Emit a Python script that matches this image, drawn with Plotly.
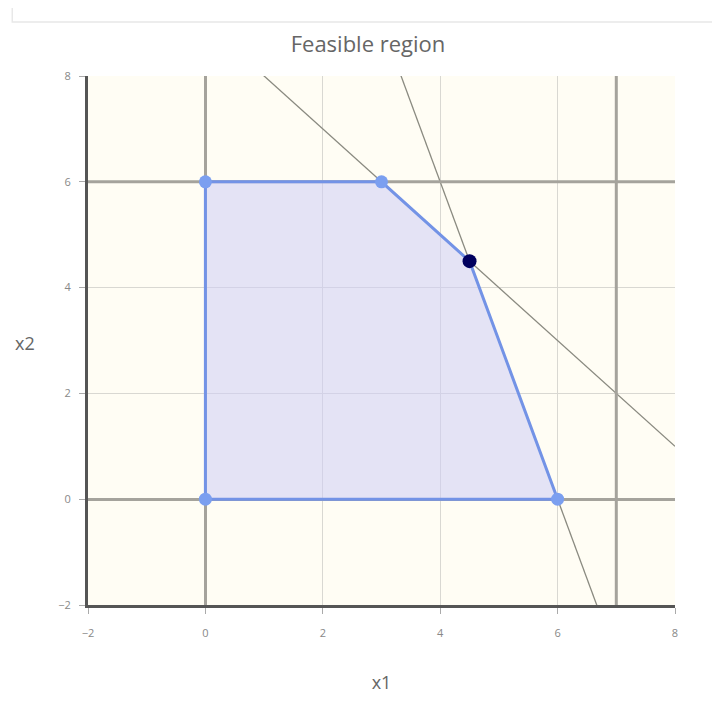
import plotly.graph_objects as go

# feasible polygon vertices
vx = [0, 0, 3, 4.5, 6]
vy = [0, 6, 6, 4.5, 0]
# optimal point
opt_x = [4.5]
opt_y = [4.5]
# sloped constraints a*x1 + b*x2 = c
slope_a = [1, 3]
slope_b = [1, 1]
slope_c = [9, 18]
# bound constraints
vline_x = [7]
hline_y = [6]
ticks = [-2, 0, 2, 4, 6, 8]

fig = go.Figure()

# sloped constraint lines
xs = [-2, 8]
for a, b, c in zip(slope_a, slope_b, slope_c):
    fig.add_trace(go.Scatter(x=xs, y=[(c - a * x) / b for x in xs], mode="lines",
                             line=dict(color="#8a8a80", width=1.3), hoverinfo="skip"))

for v in vline_x:
    fig.add_trace(go.Scatter(x=[v, v], y=[-2, 8], mode="lines",
                             line=dict(color="#a5a39c", width=3), hoverinfo="skip"))
for h in hline_y:
    fig.add_trace(go.Scatter(x=[-2, 8], y=[h, h], mode="lines",
                             line=dict(color="#a5a39c", width=3), hoverinfo="skip"))

# polygon
fig.add_trace(go.Scatter(x=vx + [vx[0]], y=vy + [vy[0]], mode="lines",
                         fill="toself", fillcolor="rgba(205,205,245,0.55)",
                         line=dict(color="#7393e6", width=3), hoverinfo="skip"))

# vertices
fig.add_trace(go.Scatter(x=vx, y=vy, mode="markers",
                         marker=dict(color="#7b9ff0", size=13), hoverinfo="skip"))
# optimum
fig.add_trace(go.Scatter(x=opt_x, y=opt_y, mode="markers",
                         marker=dict(color="#00005e", size=14), hoverinfo="skip"))

axis_common = dict(range=[-2, 8], tickvals=ticks, showgrid=True, gridcolor="#d9d8d2",
                   gridwidth=1, zeroline=True, zerolinecolor="#a5a39c", zerolinewidth=3,
                   showline=True, linecolor="#555555", linewidth=3,
                   ticks="outside", ticklen=6, tickcolor="#aaaaaa",
                   tickfont=dict(size=11, color="#888888", family="Open Sans"),
                   fixedrange=True)

fig.update_layout(
    width=720, height=711,
    margin=dict(l=80, r=53, t=68, b=114),
    paper_bgcolor="white", plot_bgcolor="#fffdf4",
    showlegend=False,
    title=dict(text="Feasible region", x=0.5, xanchor="center", y=0.949, yanchor="middle",
               font=dict(size=22, color="#666666", family="Open Sans")),
    xaxis=dict(**axis_common, title=dict(text="x1", standoff=38,
                                         font=dict(size=18, color="#666666", family="Open Sans"))),
    yaxis=dict(**axis_common),
    annotations=[dict(text="x2", xref="paper", yref="paper", x=-0.107, y=0.495,
                      xanchor="center", yanchor="middle", showarrow=False,
                      font=dict(size=18, color="#666666", family="Open Sans"))],
    shapes=[dict(type="rect", xref="paper", yref="paper",
                 x0=-0.129, x1=1.2, y0=1.102, y1=1.2,
                 line=dict(color="#e8e8e8", width=1.5), fillcolor="rgba(0,0,0,0)")],
)
fig.update_xaxes(ticklabelstandoff=10)
fig.update_yaxes(ticklabelstandoff=6)

fig.write_html("out.html")
